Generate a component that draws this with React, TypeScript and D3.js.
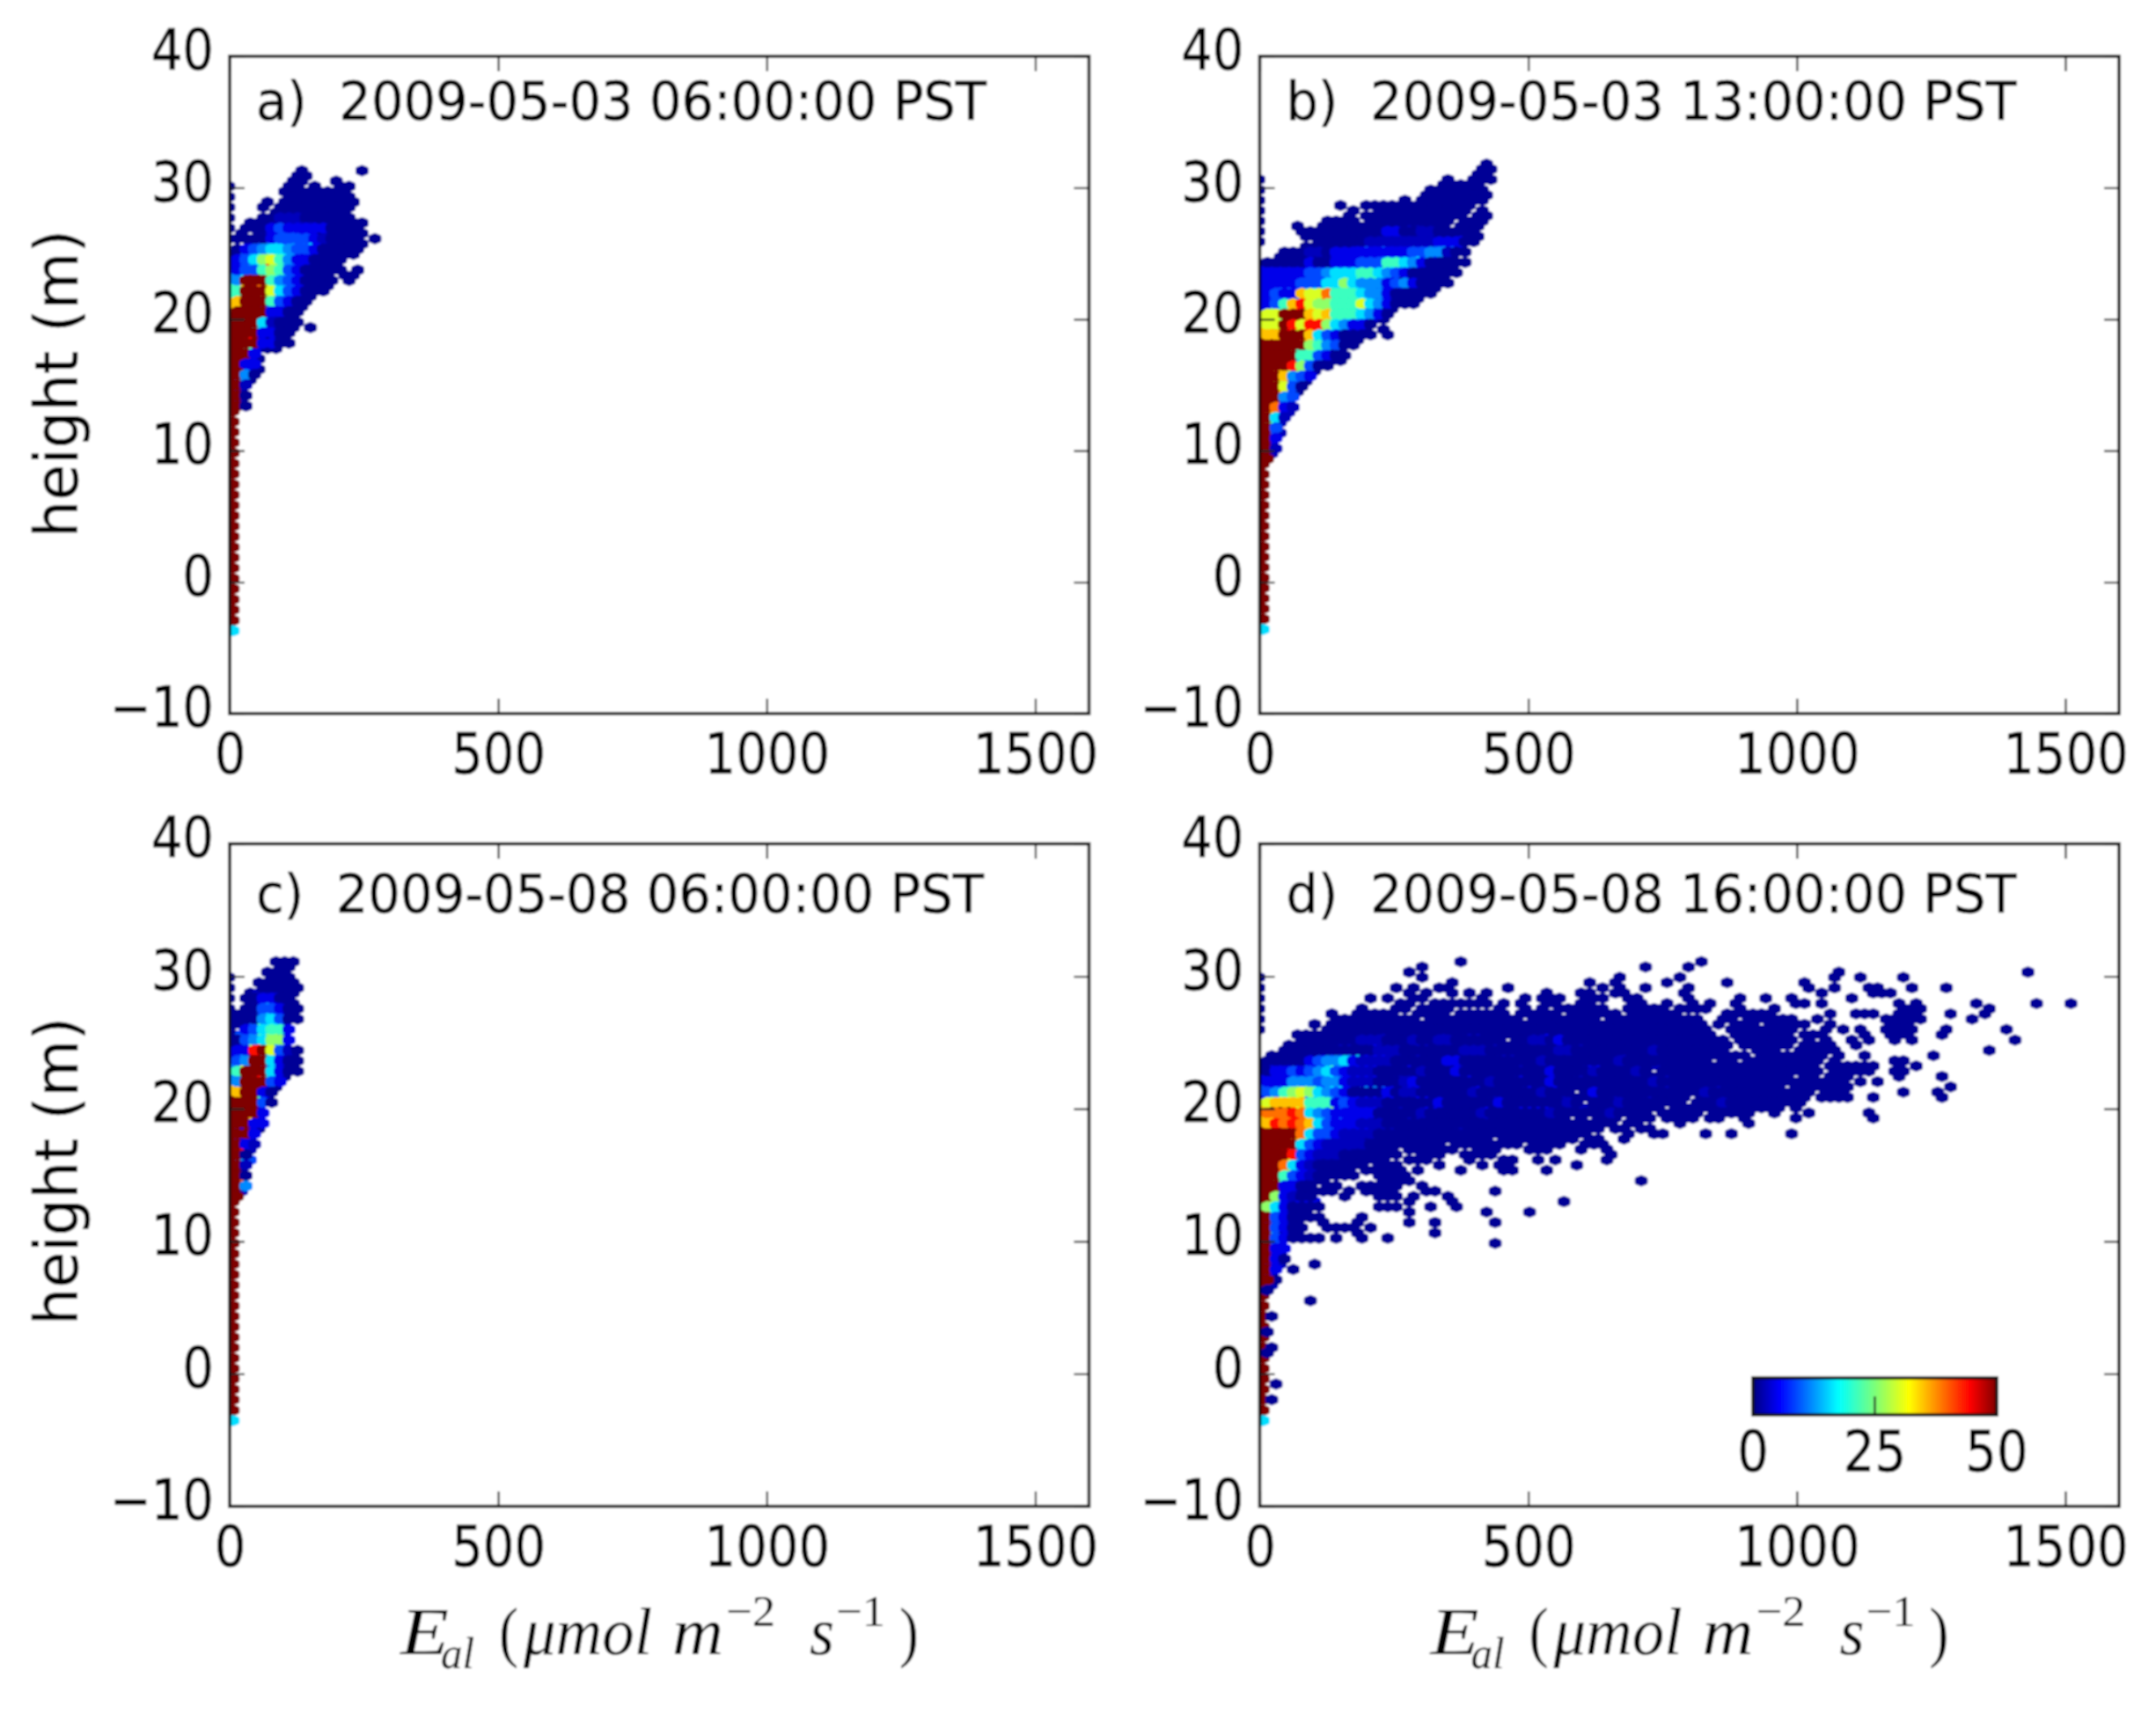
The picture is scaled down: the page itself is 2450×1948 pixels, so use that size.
import React, { useEffect, useRef } from "react";
import * as d3 from "d3";

// hexbin cells. Each entry is "row|cells" (or "first-last/step|cells"),
// a cell token is column or column range + count level, ~ is the column left of 0 and
// z clears a cell. Later tokens overwrite earlier ones.
const levels: Record<string, number> = { a: 1, b: 2.6, c: 4.6, d: 9, e: 12, f: 16, g: 21, h: 26, i: 30, j: 35, k: 39, l: 44, m: 50 };

const cellsA = [
  "0|8a 15a", "1|7-8a", "2|7-8a 12a", "3|~a 6-7a 9a 12-13a", "4|6-13a", "5|~a 6-13a", "6|4a 6-14a", "7|~a 3a 5-13a",
  "8|5-13a", "9|~a 3-13a", "10|2-15a", "11|~a 1-14a", "12|1a 3-15a", "13|~a 0-1a 2-14a 16a", "14|2-15a", "15|0-14a",
  "16|0-14a", "17|0-12a", "18|0-12a", "19|0-12a 14a", "20|0-11a 13-14a", "21|0-11a 13a", "22|0-11a", "23|0-10a",
  "24|0-9a", "25|0-8a", "26|0-8a", "27|0-7a", "28|0-7a", "29|0-7a", "30|0-7a 9a", "31|0-6a", "32|0-6a", "33|0-6a",
  "34|0-5a", "35|0-2a", "36|0-3a", "37|0-2a", "38|0-3a", "39|0-2a", "40|0-2a", "41|0-1a", "42|0-1a", "43|0-1a", "44|0-1a", "45|0-1a",
  "9|5-7b", "10|5-9b", "11|4-10c 5d", "12|4-9c 6-7d", "13|4c 5d 6-8d 9c 10b", "14|2c 3d 4e 5f 6d 7e 8d 9f 10c",
  "15|1c 2d 3e 4f 5f 6e 7d 8d 9c", "16|1d 2e 3g 4h 5g 6f 7e 8c 9c", "17|0c 1d 2f 3h 4i 5g 6e 7c 8c", "18|0c 1d 2e 3g 4l 5h 6e 7d 8c",
  "19|0c 1d 2d 3g 4h 5g 6d 7c", "20|0e 1f 2m 3m 4h 5g 6e 7d 8c", "21|0e 1-3m 4g 5e 6d 7c", "22|0g 1j 2m 3k 4i 5f 6e 7d 8c",
  "23|0g 1-3m 4i 5f 6d 7c", "24|0g 1-3m 4h 5e 6d 7c", "25|0j 1-3m 4g 5d 6c", "26|0j 1-3m 4d 5c 6c", "27|0-3m 4c 5c", "28|0-3m 4c 5b",
  "29|0-2m 3f 4b", "30|0-2m 3f 4c", "31|0-2m 3c 4c", "32|0-1m 2l 3c", "33|0-2m 3c 4c", "34|0-1m 2g 3c", "35|0-1m 2c", "36|0-1m 2c",
  "37|0-1m 1c 2c", "38|0-1m 2c", "39|0m 1e 2a", "40|0m 1e", "41|0m 1b", "42|0m 1b", "43|0m 1a", "44|0m 1b", "45|0m 1a",
  "46-86/2|0m", "88|0f",
];

const cellsB = [
  "0|26a", "1|25-26a", "2|25-26a", "3|~a 21a 24-26a", "4|21-25a", "5|~a 19-25a", "6|19-26a", "7|~a 16a 18-25a",
  "8|9a 12-24a", "9|~a 10a 13-23a 25a", "10|10a 12-23a 25-26a", "11|~a 7-10a 12-21a 23-25a", "12|4a 7-21a 23-25a",
  "13|~a 4-6a 7-21a 22-24a", "14|5-25a", "15|~a 6-24a", "16|5-23a", "17|2-23a", "18|2-22a", "19|0-23a", "20|0-22a", "21|0-22a",
  "22|0-21a", "23|0-21a", "24|0-20a", "25|0-19a", "26|0-18a", "27|0-17a", "28|0-15a", "29|0-14a", "30|0-14a", "31|0-12a", "32|0-12a 14a",
  "33|0-12a 14a", "34|0-11a", "35|0-10a", "36|0-9a", "37|0-9a", "38|0-9a", "39|0-7a", "40|0-6a", "41|0-5a", "42|0-5a", "43|0-4a", "44|0-4a",
  "45|0-3a", "46|0-3a", "47|0-3a", "48|0-3a", "49|0-2a", "50|0-2a", "51|0-1a", "52|0-2a", "53|0-1a", "54|0-1a", "55|0-1a", "56|0-1a",
  "12|17-18b", "13|14-15c 18-19b", "14|14-19b 23c", "15|12-19b 20-22c", "16|11c 12d 13c 14d 15c 16-19c 20d 21e 22d 23c",
  "17|5-6b 8-12c 13-17c 17-18d 19e 20e 21b", "18|8-13c 14-17d 18f 19e 20c", "19|5c 8-10c 11-14d 14g 15g 16f 17e 18c",
  "20|0-8c 9-13d 14g 15f 16e 17d 18c", "21|0-4c 5-6d 7e 8-9f 10f 11g 12g 13f 14e 15d 16c", "22|0-4c 5-7d 8f 9f 10f 11g 12g 13g 14e 15c",
  "23|0-3c 4-5d 6d 7f 8f 9h 10f 11e 12e 13e 14c 15d 16e 17c", "24|0-1c 2d 3d 4d 5e 6f 7g 8g 9g 10g 11f 12e 13e 14c 15c 16b",
  "25|0c 1d 2c 3c 4j 5i 6i 7k 8g 9g 10g 11f 12e 13e 14c", "26|0c 1d 2d 3d 4e 5i 6i 7k 8g 9g 10g 11g 12f 13e 14c",
  "27|0c 1d 2g 3j 4l 5i 6h 7h 8g 9g 10g 11i 12f 13e 14c", "28|0c 1h 2g 3j 4l 5i 6i 7h 8g 9g 10g 11f 12e 13c",
  "29|0i 1i 2-4m 5j 6i 7j 8g 9g 10g 11f 12e 13c", "30|0i 1h 2h 3-4m 5j 6i 7j 8g 9g 10f 11e 12c 13c", "31|0i 1i 2m 3l 4i 5l 6l 7h 8f 9e 10c 11c",
  "32|0j 1j 2m 3l 4i 5l 6l 7h 8f 9e 10c 11c", "33|0j 1j 2-4m 5j 6f 7d 8c", "34|0-4m 5j 6f 7d 8c", "35|0-4m 5h 6g 7e 8d",
  "36|0-3m 4g 5g 6g 7d", "37|0-3m 4g 5g 6d 7c", "38|0-3m 4f 5e 6c", "39|0-2m 3l 4h 5d", "40|0-1m 2j 3h 4h 5c", "41|0-1m 2j 3e 4d 5c",
  "42|0-1m 2i 3d 4d", "43|0-1m 2i 3d", "44|0-1m 2j 3d", "45|0-1m 2e 3d", "46|0-1m 2d 3c", "47|0m 1k 2c 3b", "48|0m 1j 2c 3b", "49|0m 1f 2b", "50|0m 1g 2b",
  "51|0m 1d", "52|0m 1d 2b", "53|0m 1c", "54|0m 1c", "55|0m 1b", "56|0m 1b", "57|0m", "58-88/2|0m", "90|0f",
];

const cellsC = [
  "0|5-7a", "1|5-6a", "2|4-6a", "3|~a 4-6a", "4|3-7a", "5|~a 3-7a", "6|2-7a", "7|~a 1-6a", "8|2-7a", "9|~a 1-7a", "10|0-7a", "11|0-7a",
  "12|0-1a 2-6a", "13|1-6a", "14|0-6a", "15|0-6a", "16|0-6a", "17|0-7a", "18|0-7a", "19|0-7a", "20|0-7a", "21|0-7a", "22|0-6a", "23|0-5a",
  "24|0-5a", "25|0-4a", "26|0-4a", "27|0-4a", "28|0-3a", "29|0-3a", "30|0-3a", "31|0-3a", "32|0-3a", "33|0-2a", "34|0-2a", "35|0-2a", "36|0-2a",
  "37|0-1a", "38|0-1a", "39|0-1a", "40|0-1a", "41|0-1a", "42|0-1a", "43|0-1a", "44|0-1a",
  "6|3-5b", "7|3-4c", "8|3c 4e 5c", "9|3d 4d 5c", "10|3d 4f 5d", "11|3e 4f 5d", "12|2d 3g 4f 5f 6b", "13|1c 2d 3f 4g 5g 6c",
  "14|1d 2e 3g 4h 5h 6c", "15|1d 2e 3f 4h 5h 6c", "16|1c 2h 3l 4i 5e 6c", "17|0c 1c 2l 3m 4i 5d 6b", "18|0c 1e 2m 3m 4f 5c 6b", "19|0d 1e 2m 3m 4f 5c",
  "20|0e 1i 2m 3m 4e 5c", "21|0g 1-3m 4f 5c", "22|0e 1-2m 3l 4f 5c", "23|0e 1-3m 4d 5c", "24|0j 1-3m 4c", "25|0j 1-2m 3c", "26|0-2m 3g 4c", "27|0-2m 3d",
  "28|0-2m 3c", "29|0-2m 3c", "30|0-1m 2j 3c", "31|0-1m 2c 3c", "32|0-1m 1c 2c", "33|0-1m 2c", "34|0m 1c 2c", "35|0m 1c 2b", "36|0m 1l 2b", "37|0m 1a",
  "38|0m 1e 2d", "39|0m 1b", "40|0m 1a", "41|0m 1a", "42|0m 1k", "43|0m 1e", "44|0m 1b", "45|0m", "46-86/2|0m", "88|0f",
];

const cellsD = [
  "0|23a 51a", "1|18a 44a 49a", "2|17a 67a 89a", "3|~a 18a 41a 48a 66a 69a 74a", "4|22a 38a 41a 47a 54a 63a",
  "5|~a 15a 17a 20-21a 28a 39a 41a 44a 49a 63a 66a 70-71a 75a 79a", "6|17a 19a 22a 24a 26a 33a 37-38a 41-42a 49a 65a 71-73a",
  "7|~a 12a 14a 17-18a 25a 30a 32-34a 37-39a 42-43a 49a 55a 58a 61a 68a",
  "8|16-17a 20-26a 28a 30a 33-34a 37-38a 43-44a 47a 50a 52a 55a 62-63a 65a 74a 76a 83a 90a 94a",
  "9|~a 11a 15-16a 18-21a 27a 30a 32a 34-39a 42-46a 48-51a 55a 59a 74-76a 84a",
  "10|8a 11-15a 18-21a 23-28a 30-34a 36-48a 54-59a 66a 69-71a 74-76a 80a 84a",
  "11|~a 8-17a 19-29a 31-50a 53-54a 56-61a 64a 72-76a 82a", "12|6a 8-53a 55-63a 66a 73-75a", "13|~a 7-51a 54-61a 65a 67a 69a 72-75a 79a 86a",
  "14|4-52a 55-61a 63-65a 70a 73-75a 79a", "15|4-27a 29-53a 55-61a 63a 65a 68a 70a 73a 75a 87a", "16|3-54a 56-61a 63-66a 69a",
  "17|2-53a 57-59a 62-66a 84a", "18|1-56a 58-65a 67a 70a 78a", "19|0-54a 56-64a 65-66a 73-74a", "20|0-54a 55-64a 66-71a 74a 76a", "21|0-64a 66-70a 73-74a",
  "22|0-61a 63-64a 66-68a 74a 79a", "23|0-61a 62-65a 66-67a 69a 71a", "24|0-60a 62-66a 67-68a 80a", "25|0-63a 65-67a 74a 78a",
  "26|0-63a 65a 66-68a 71a 79a", "27|0-48a 50-62a", "28|0-46a 48-60a 62a", "29|0-44a 46-50a 52-56a 59a 63a 70a",
  "30|0-37a 39-41a 43-45a 47-50a 52-53a 56a 62a 71a", "31|0-40a 42-43a 45a 48a 56a", "32|0-39a 41-42a 44-45a", "33|0-37a 42a 45-46a 51a 54a 61a",
  "34|0-26a 28-36a 38-39a 42a", "35|0-15a 16-20a 22-29a 31-34a 37-39a", "36|0-15a 17-22a 25-27a 31-33a 37a 40a", "37|0-15a 18-20a 23-26a 40a",
  "38|0-14a 17-19a 24a 28-29a 32a 34a 40a", "39|0-11a 13-15a 20a 25a 27-28a 36a", "40|0-10a 12-16a 18a 23a 28-29a 33a", "41|0-10a 13-16a",
  "42|0-7a 14-17a 44a", "43|0-5a 7-8a 11-15a 18a", "44|0-8a 10a 12-15a 19-20a 27a", "45|0-5a 9a 13-15a 17a 21a", "46|0-6a 17a 22a 35a",
  "47|0-6a 13-15a 19a 22a", "48|0-5a 17a 26a 31a", "49|0-6a 11a", "50|0-4a 7a 11a 17a 20a 27a", "51|0-4a 7-10a 12a", "52|0-4a 11a 20a",
  "53|0-6a 8a 11a 14a", "54|0-2a 27a", "55|0-2a", "56|0-2a", "57|0-2a", "58|0-2a 6a", "59|0-1a 3a", "60|0-1a", "61|0-1a", "62|0-1a", "65|5a",
  // holes in the cloud
  "10|29z 42z", "11|39z", "12|52z 58z", "13|63z", "14|53z", "17|54z 60z", "19|52z 65z", "21|45z", "22|62z", "25|36z", "26|50z", "27|37z", "28|37z", "30|36z", "31|45z",
  // blue shading, sparse
  "14|14b 21b 33c 24-25b", "15|11-13b 17b 20-21b 31-32b 34c", "16|9-10b 13c 18-19b 27b 37b", "17|13-15b 23-25b 34-35b 45b",
  "18|7c 8-9d 10e 11f 12-14c 15b 18b 28-29b 42b", "19|5c 6d 7e 8e 9f 10c 11-14b 21-22c 32b 41b",
  "20|1-4c 5d 6c 7d 8g 9e 10c 11-13c 17c 23b 30b 38-39c 46b", "21|1-2c 3d 4c 5d 6e 7f 8d 9c 10-12b 18b 22c 33c 38b 43b",
  "22|0c 1-3c 4d 5d 6e 7e 8f 9d 10c 11-13c 16-17b 24c 30c 37b 47b", "23|0c 1-2c 3-5e 6d 7e 8e 9c 10-12b 16b 17c 26b 33c 45b",
  "24|0d 1c 2d 3g 4h 5h 6g 7d 8f 9f 10c 12e 13e 14d 15c 17-18c 25c 31c 34c 47b 53b", "25|0d 1e 2g 3h 4i 5h 6f 7e 8d 9c 14c 16-17b 24b 32b 38c 51b",
  "26|0c 1h 2i 3i 4i 5e 6f 7g 8e 9d 10c 11-14c 15c 18-19c 27b 35b 41b 45b", "27|0i 1j 2j 3j 4j 5g 6g 7g 8c 9d 10c 11-13b 20c 27c 35b 41b 53b",
  "28|0j 1-3m 4i 5g 6g 7g 8h 9d 10-13c 16b 19-20c 26c 30-33c 37b", "29|0k 1k 2k 3l 4k 5f 6e 7d 8c 9-12c 18b 25b 33b 40b",
  "30|0j 1j 2k 3k 4l 5j 6f 7e 8c 9d 10-12c 17-18b 26b", "31|0j 1l 2k 3l 4k 5j 6f 7d 8c 9-10c 11-13b", "32|0-3m 4k 5j 6e 7d 8d 9-12c 13-15b 23b",
  "33|0-3m 4k 5f 6d 7d 8c 9-12b", "34|0-3m 4j 5g 6d 7c 8-11b", "35|0-3m 4f 5d 6c 7-11b", "36|0-2m 3l 4e 5d 6c 7-10b", "37|0-2m 3l 4d 5c 6-8b",
  "38|0-2m 3i 4e 5c 6b", "39|0-1m 2k 3f 4c 5b", "40|0-1m 2k 3h 4d 5c 6b", "41|0-1m 2g 3d 4c 5b", "42|0-1m 2g 3c 4c", "43|0-1m 2c 3c", "44|0-1m 2c 3c",
  "45|0m 1h 2c 3b", "46|0m 1h 2c 3b 4-6c", "47|0h 1f 2c", "48|0m 1f 2c", "49|0m 1d 2c", "50|0m 1d 2c", "51|0m 1d 2c", "52|0m 1e 2b", "53|0m 1d 2c",
  "54|0m 1d 2c", "55|0m 1c 2c", "56|0m 1c 2c", "57|0m 1c", "58|0m 1c 2b", "59|0m 1c", "60|0m 1c", "61|0z 0m", "62|0m 1b", "63|0a",
  "64-86/2|0m", "68|1a", "71|0a", "74|1a", "75|0a", "81|1a", "84|1a", "88|0f",
];

const panelLabels = ["a)  2009-05-03 06:00:00 PST", "b)  2009-05-03 13:00:00 PST", "c)  2009-05-08 06:00:00 PST", "d)  2009-05-08 16:00:00 PST"];
const panelCells = [cellsA, cellsB, cellsC, cellsD];
const topHeights = [31.3, 31.8, 31.1, 31.1];
const binHeights = [0.3977, 0.3933, 0.3935, 0.3935];
const xTicks = [0, 500, 1000, 1500];
const yTicks = [-10, 0, 10, 20, 30, 40];
const colorbarTicks = [0, 25, 50];

// jet, as matplotlib has it
const jetStops = [0, 0.11, 0.35, 0.5, 0.64, 0.89, 1];
const jetColors = ["#00007f", "#0000ff", "#00ffff", "#7cff79", "#ffff00", "#ff0000", "#7f0000"];

const BIN_E = 16;
// the source image is stretched a bit vertically, its text too
const TEXT_SY = 1.13;

const decode = (rows: string[], top: number, binH: number) => {
  const cells = new Map<string, { E: number; h: number; count: number; row: number }>();
  rows.forEach((entry) => {
    const [rowPart, tokens] = entry.split("|");
    const [span, step] = rowPart.split("/");
    const [r0, r1] = span.split("-").map(Number);
    d3.range(r0, (r1 ?? r0) + 1, step ? +step : 1).forEach((row) => {
      tokens.split(" ").forEach((tok) => {
        const m = tok.match(/^(~|\d+)(?:-(\d+))?([a-mz])$/);
        if (!m) return;
        const c0 = m[1] === "~" ? -1 : +m[1];
        const c1 = m[2] ? +m[2] : c0;
        d3.range(c0, c1 + 1).forEach((col) => {
          const key = row + "," + col;
          if (m[3] === "z") {
            cells.delete(key);
            return;
          }
          cells.set(key, {
            E: (col + 0.4 + (row % 2 ? 0.5 : 0)) * BIN_E,
            h: top - row * binH,
            count: levels[m[3]],
            row,
          });
        });
      });
    });
  });
  return Array.from(cells.values());
};

const App = () => {
  const svgRef = useRef<SVGSVGElement>(null);

  useEffect(() => {
    const svg = d3.select(svgRef.current);
    svg.selectAll("*").remove();

    const defs = svg.append("defs");
    defs.append("filter").attr("id", "soft").attr("x", 0).attr("y", 0).attr("width", 1).attr("height", 1)
      .append("feGaussianBlur").attr("stdDeviation", 0.85);

    const root = svg.append("g").attr("filter", "url(#soft)");
    root.append("rect").attr("width", 2450).attr("height", 1948).attr("fill", "#fff");

    const color = d3.scaleLinear<string>()
      .domain(jetStops.map((d) => d * 50))
      .range(jetColors)
      .clamp(true);

    const width = 976.5;
    const lefts = [261, 1431.5, 261, 1431.5];
    const tops = [64, 64, 959, 959];
    const heights = [747, 747, 753, 753];

    const textStyle = (t: any, size: number) =>
      t.attr("font-family", "'DejaVu Sans'")
        .attr("font-size", size)
        .attr("fill", "#000")
        .attr("stroke", "#000")
        .attr("stroke-width", 0.5);

    panelCells.forEach((rows, i) => {
      const x = d3.scaleLinear().domain([0, 1600]).range([0, width]);
      const y = d3.scaleLinear().domain([-10, 40]).range([heights[i], 0]);
      const g = root.append("g").attr("transform", `translate(${lefts[i]},${tops[i]})`);

      const clipId = "clip" + i;
      defs.append("clipPath").attr("id", clipId).append("rect").attr("width", width).attr("height", heights[i]);

      // hexagon outline in px, same proportions as matplotlib's hexbin
      const binH = binHeights[i];
      const hw = (x(BIN_E) - x(0)) / 2;
      const hh = (y(0) - y(binH)) * 2 / 3;
      const hex = d3.line().curve(d3.curveLinearClosed)([
        [hw, -hh / 2], [hw, hh / 2], [0, hh], [-hw, hh / 2], [-hw, -hh / 2], [0, -hh],
      ]);

      const cells = decode(rows, topHeights[i], binH);
      // first lattice, then the offset one
      cells.sort((a, b) => (a.row % 2) - (b.row % 2) || a.row - b.row);
      g.append("g").attr("clip-path", `url(#${clipId})`)
        .selectAll("path").data(cells).join("path")
        .attr("d", hex)
        .attr("transform", (d) => `translate(${x(d.E)},${y(d.h)})`)
        .attr("fill", (d) => color(d.count))
        .attr("stroke", (d) => color(d.count))
        .attr("stroke-width", 5)
        .attr("stroke-linejoin", "round");

      // axes, ticks inward on all four sides
      const styleAxis = (a: any) => {
        a.select(".domain").remove();
        a.selectAll(".tick line").attr("stroke", "#222").attr("stroke-width", 2.2);
        a.selectAll("text").call(textStyle, 56).attr("transform", `scale(1,${TEXT_SY})`);
      };
      const fmt = (d: any) => String(d).replace("-", "\u2212");
      g.append("g").attr("transform", `translate(0,${heights[i]})`)
        .call(d3.axisBottom(x).tickValues(xTicks).tickSize(-17).tickPadding(0).tickFormat(fmt))
        .call(styleAxis)
        .selectAll("text").attr("y", 68 / TEXT_SY).attr("dy", 0);
      g.append("g").call(d3.axisLeft(y).tickValues(yTicks).tickSize(-17).tickPadding(0).tickFormat(fmt))
        .call(styleAxis)
        .selectAll("text").attr("x", -18).attr("y", -8 / TEXT_SY).attr("dy", "0.36em");
      g.append("g").call(d3.axisTop(x).tickValues(xTicks).tickSize(-17).tickFormat(() => ""))
        .call(styleAxis);
      g.append("g").attr("transform", `translate(${width},0)`)
        .call(d3.axisRight(y).tickValues(yTicks).tickSize(-17).tickFormat(() => ""))
        .call(styleAxis);

      g.append("rect").attr("width", width).attr("height", heights[i])
        .attr("fill", "none").attr("stroke", "#111").attr("stroke-width", 3.6);

      g.append("text")
        .attr("transform", `translate(30,${i < 2 ? 72 : 78}) scale(1,${TEXT_SY})`)
        .call(textStyle, 54)
        .attr("textLength", i === 2 ? 827 : 830)
        .attr("lengthAdjust", "spacingAndGlyphs")
        .style("white-space", "pre")
        .text(panelLabels[i]);

      if (i % 2 === 0) {
        root.append("text")
          .attr("transform", `translate(64,${tops[i] + 372}) rotate(-90) scale(1,${TEXT_SY})`)
          .attr("text-anchor", "middle")
          .attr("dy", "0.35em")
          .call(textStyle, 60)
          .attr("textLength", 350)
          .attr("lengthAdjust", "spacingAndGlyphs")
          .text("height (m)");
      }

      if (i >= 2) {
        // mathtext label, piece by piece since it has sub- and superscripts
        const parts: [string, number, number, number, boolean, number][] = [
          ["E", 0, 0, 76, true, 55],
          ["al", 46, 16, 50, true, 38],
          ["(", 112, 0, 76, false, 22],
          ["\u03bcmol", 140, 0, 76, true, 146],
          ["m", 309, 0, 76, true, 58],
          ["\u22122", 370, -32, 50, false, 56],
          ["s", 465, 0, 76, true, 28],
          ["\u22121", 495, -32, 50, false, 56],
          [")", 567, 0, 76, false, 22],
        ];
        const lab = root.append("g").attr("transform", `translate(${lefts[i] + 194},1880)`);
        parts.forEach(([t, dx, dy, size, it, len]) => {
          lab.append("text")
            .attr("x", dx).attr("y", dy)
            .attr("font-family", "'Liberation Serif'")
            .attr("font-style", it ? "italic" : "normal")
            .attr("font-size", size)
            .attr("fill", "#000")
            .attr("textLength", len)
            .attr("lengthAdjust", "spacingAndGlyphs")
            .text(t);
        });
      }
    });

    // colorbar inset in panel d
    const grad = defs.append("linearGradient").attr("id", "jet");
    jetStops.forEach((s, i) => grad.append("stop").attr("offset", s).attr("stop-color", jetColors[i]));
    const cx = d3.scaleLinear().domain([0, 50]).range([1992, 2269]);
    const cb = root.append("g");
    cb.append("rect").attr("x", cx(0)).attr("y", 1566).attr("width", cx(50) - cx(0)).attr("height", 42)
      .attr("fill", "url(#jet)").attr("stroke", "#111").attr("stroke-width", 3.6);
    cb.append("line").attr("x1", cx(25)).attr("x2", cx(25)).attr("y1", 1587).attr("y2", 1607)
      .attr("stroke", "#222").attr("stroke-width", 2.2);
    cb.selectAll("text.cbt").data(colorbarTicks).join("text")
      .attr("class", "cbt")
      .attr("transform", (d) => `translate(${cx(d)},1672) scale(1,${TEXT_SY})`)
      .attr("text-anchor", "middle")
      .call(textStyle, 56)
      .text((d) => d);
  }, []);

  return <svg ref={svgRef} width={2450} height={1948} style={{ position: "absolute", left: 0, top: 0 }} />;
};

export default App;
